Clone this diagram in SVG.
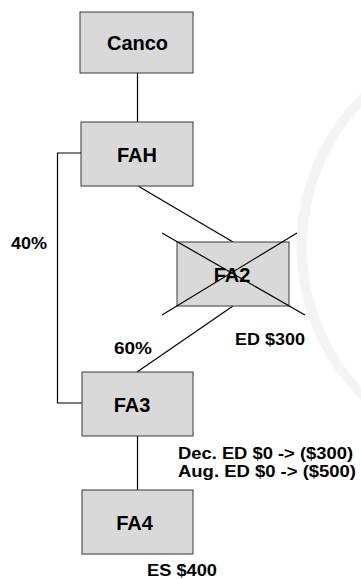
<svg xmlns="http://www.w3.org/2000/svg" width="361" height="579" viewBox="0 0 361 579">
<style>
.bg{fill:#f4f4f4;stroke:none}
.box{fill:#d9d9d9;stroke:#3a3a3a;stroke-width:1}
.ln{fill:none;stroke:#000;stroke-width:1.2}
.nt{font-family:"Liberation Sans",Arial,sans-serif;font-weight:bold;font-size:20px;fill:#000;text-anchor:middle}
.lb{font-family:"Liberation Sans",Arial,sans-serif;font-weight:bold;font-size:16px;fill:#000}
</style>
<rect width="361" height="579" fill="#fff"/>
<path class="bg" d="M361,93 A215,215 0 0 0 361,400 L361,387 A208,208 0 0 1 361,107 Z"/>
<g id="connectors">
<line class="ln" x1="137.5" y1="73" x2="137.5" y2="122"/>
<polyline class="ln" points="81,153 57.5,153 57.5,403 82,403"/>
<line class="ln" x1="138" y1="186" x2="233" y2="242"/>
<line class="ln" x1="233" y1="306" x2="137" y2="372"/>
<line class="ln" x1="137.5" y1="436" x2="137.5" y2="490"/>
</g>
<g id="canco">
<rect class="box" x="80" y="12" width="113" height="61"/>
<text class="nt" x="137.5" y="50">Canco</text>
</g>
<g id="fah">
<rect class="box" x="81" y="122" width="112" height="64"/>
<text class="nt" x="137" y="162">FAH</text>
</g>
<g id="fa2">
<rect class="box" x="177" y="242" width="112" height="64"/>
<text class="nt" x="232" y="282">FA2</text>
<line class="ln" x1="162" y1="233" x2="305" y2="315"/>
<line class="ln" x1="297" y1="233" x2="162" y2="315"/>
</g>
<g id="fa3">
<rect class="box" x="82" y="372" width="111" height="64"/>
<text class="nt" x="132" y="412">FA3</text>
</g>
<g id="fa4">
<rect class="box" x="82" y="490" width="111" height="64"/>
<text class="nt" x="134.5" y="530">FA4</text>
</g>
<g id="labels">
<text class="lb" x="11" y="249" textLength="36" lengthAdjust="spacingAndGlyphs">40%</text>
<text class="lb" x="114" y="354" textLength="38" lengthAdjust="spacingAndGlyphs">60%</text>
<text class="lb" x="235" y="345" textLength="70" lengthAdjust="spacingAndGlyphs">ED $300</text>
<text class="lb" x="178" y="459" textLength="175" lengthAdjust="spacingAndGlyphs">Dec. ED $0 -&gt; ($300)</text>
<text class="lb" x="178" y="477" textLength="178" lengthAdjust="spacingAndGlyphs">Aug. ED $0 -&gt; ($500)</text>
<text class="lb" x="147" y="576" textLength="70" lengthAdjust="spacingAndGlyphs">ES $400</text>
</g>
</svg>
